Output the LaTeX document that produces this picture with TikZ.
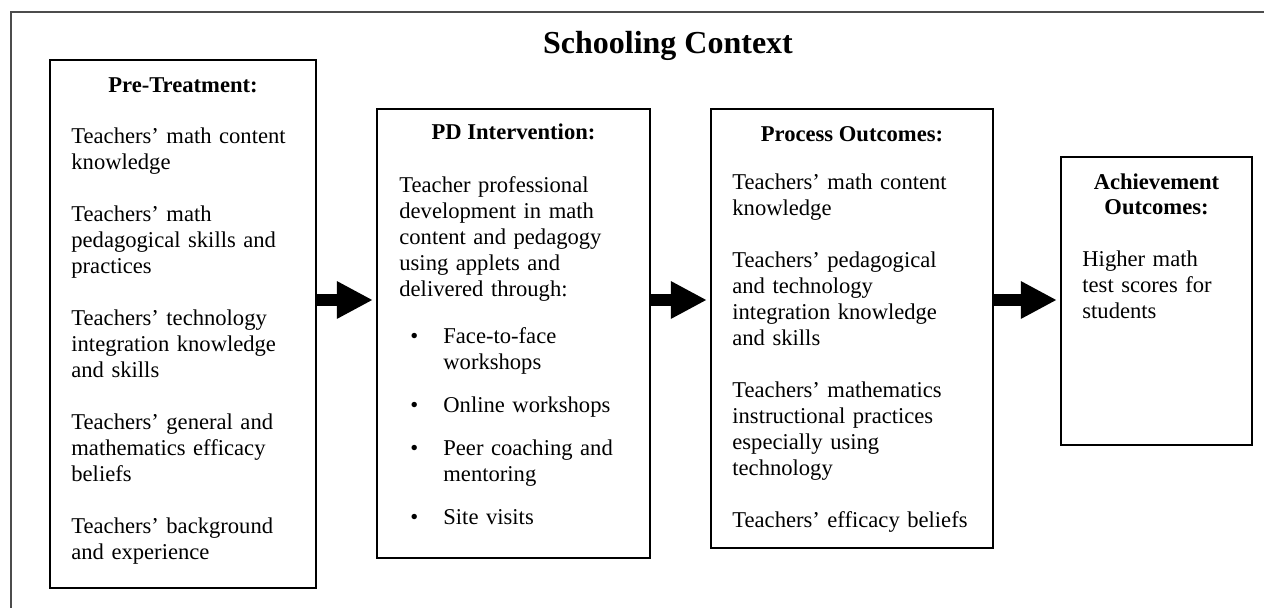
\documentclass[tikz,border=0pt]{standalone}
\usepackage{fontspec}
\setmainfont{Liberation Serif}
\usetikzlibrary{arrows.meta,calc}
\tikzset{
  stagebox/.style={draw=black, line width=1.1pt, inner sep=0pt, fill=none},
  hdr/.style={inner sep=0pt, anchor=base, font=\fontsize{11.3pt}{13pt}\selectfont\bfseries, align=center},
  bodytext/.style={inner sep=0pt, anchor=base west, font=\fontsize{11.3pt}{13pt}\selectfont, align=left, text width=#1},
  bigarrow/.style={line width=6pt, -{Triangle[length=18pt,width=17.5pt]}, shorten >=1.5pt},
  frameline/.style={draw=black!70, line width=0.8pt}
}
\newcommand{\bitem}[1]{\hspace*{5.5pt}\makebox[16.5pt][l]{\textbullet}#1}
\newcommand{\bcont}[1]{\hspace*{22pt}#1}
\begin{document}
\begin{tikzpicture}[x=0.5pt,y=-0.5pt]
\useasboundingbox (0,0) rectangle (1264,608);
\fill[white] (0,0) rectangle (1264,608);
% outer context frame
\coordinate (fbl) at (11,608);
\coordinate (ftl) at (11,12);
\coordinate (ftr) at (1264,12);
\draw[frameline] (fbl) -- (ftl) -- (ftr);
\node[inner sep=0pt, anchor=base, font=\fontsize{16pt}{19pt}\selectfont\bfseries] (title) at (668,54) {Schooling Context};

% boxes
\node[stagebox, minimum width=133pt, minimum height=264pt] (b1) at (183,324) {};
\node[stagebox, minimum width=136.5pt, minimum height=224.5pt] (b2) at (513.5,333.5) {};
\node[stagebox, minimum width=141pt, minimum height=219.5pt] (b3) at (852,328.5) {};
\node[stagebox, minimum width=95.5pt, minimum height=144pt] (b4) at (1156.5,301) {};

% headers
\node[hdr] (h1) at (183,93) {Pre-Treatment:};
\node[hdr] (h2) at (513.5,140) {PD Intervention:};
\node[hdr] (h3) at (852,142) {Process Outcomes:};
\node[hdr] (h4a) at (1156.5,190) {Achievement};
\node[hdr] (h4b) at (1156.5,215) {Outcomes:};

% bodies
\node[bodytext=120pt] (t1) at (71,144) {Teachers’ math content\\knowledge\\[13pt]Teachers’ math\\pedagogical skills and\\practices\\[13pt]Teachers’ technology\\integration knowledge\\and skills\\[13pt]Teachers’ general and\\mathematics efficacy\\beliefs\\[13pt]Teachers’ background\\and experience};
\node[bodytext=122pt] (t2) at (399,193) {Teacher professional\\development in math\\content and pedagogy\\using applets and\\delivered through:\\[10.5pt]\bitem{Face-to-face}\\\bcont{workshops}\\[8.5pt]\bitem{Online workshops}\\[8.5pt]\bitem{Peer coaching and}\\\bcont{mentoring}\\[8.5pt]\bitem{Site visits}};
\node[bodytext=128pt] (t3) at (732,190) {Teachers’ math content\\knowledge\\[13pt]Teachers’ pedagogical\\and technology\\integration knowledge\\and skills\\[13pt]Teachers’ mathematics\\instructional practices\\especially using\\technology\\[13pt]Teachers’ efficacy beliefs};
\node[bodytext=80pt] (t4) at (1082,267) {Higher math\\test scores for\\students};

% arrows
\coordinate (ay) at (0,300);
\draw[bigarrow] (b1.east |- ay) -- (b2.west |- ay);
\draw[bigarrow] (b2.east |- ay) -- (b3.west |- ay);
\draw[bigarrow] (b3.east |- ay) -- (b4.west |- ay);
\end{tikzpicture}
\end{document}
